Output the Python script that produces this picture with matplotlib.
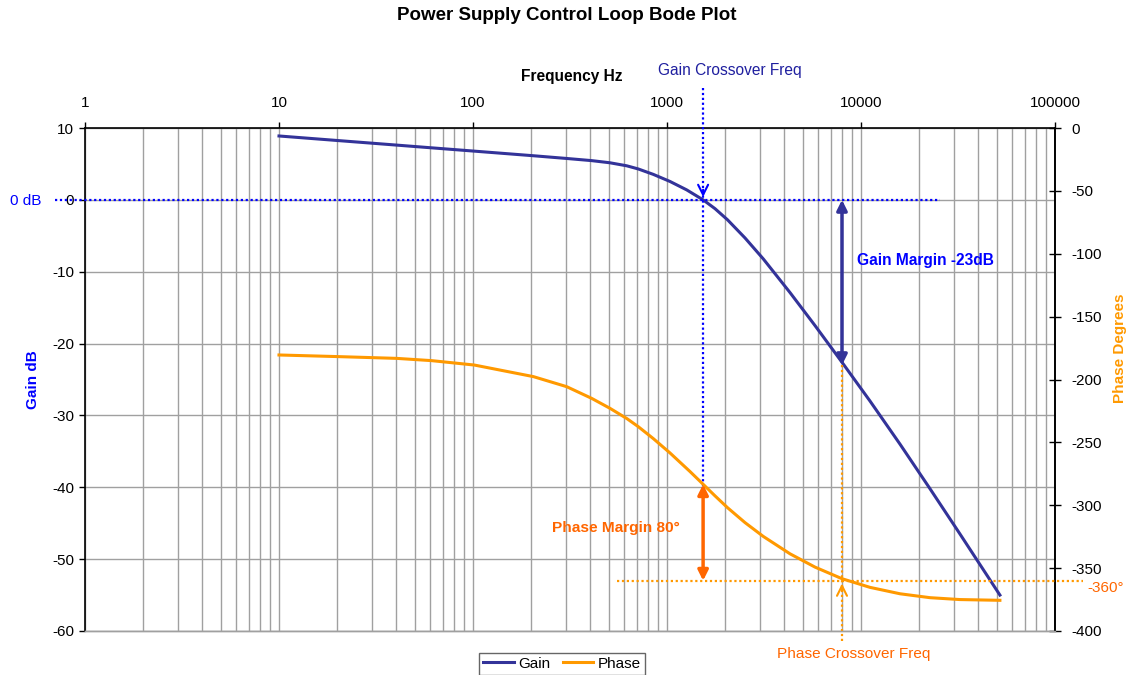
import matplotlib
matplotlib.use("Agg")
import matplotlib.pyplot as plt
from matplotlib.ticker import FixedLocator, NullFormatter, LogLocator

plt.rcParams['font.family'] = ['Liberation Sans', 'DejaVu Sans']
plt.rcParams['axes.unicode_minus'] = False

# ---- data ----
gain_freq_hz = [10, 20.2, 40.4, 61.2, 101.6, 204.7, 304, 409, 508, 620, 711, 851, 1036,
                1263, 1535, 1767, 2050, 2524, 3136, 4305, 5795, 7980, 11130, 15890,
                22680, 32370, 52000]
gain_db = [8.89, 8.25, 7.62, 7.24, 6.78, 6.14, 5.76, 5.46, 5.16, 4.74, 4.30, 3.54, 2.56,
           1.39, 0.0, -1.22, -2.77, -5.30, -8.22, -12.9, -17.5, -22.6, -28.0, -34.0,
           -40.2, -46.5, -55.0]
phase_freq_hz = [10, 20.2, 40.4, 61.2, 101.6, 204.7, 304, 409, 508, 620, 711, 850, 1036,
                 1314, 1535, 1767, 2050, 2524, 3136, 4305, 5795, 7980, 11130, 15890,
                 22680, 32370, 52000]
phase_deg = [-180.5, -181.8, -183.2, -185.0, -188.5, -197.7, -205.7, -215.0, -222.9,
             -231.0, -237.5, -247.0, -258.4, -273.2, -283.3, -292.5, -301.9, -313.8,
             -324.8, -338.6, -349.2, -358.4, -365.3, -370.4, -373.5, -375.0, -375.6]
x_ticks = [1, 10, 100, 1000, 10000, 100000]
x_tick_labels = ['1', '10', '100', '1000', '10000', '100000']
gain_ticks = [10, 0, -10, -20, -30, -40, -50, -60]
phase_ticks = [0, -50, -100, -150, -200, -250, -300, -350, -400]
gain_cross_freq = 1535
phase_cross_freq = 7980
gain_margin_db = -23
phase_at_gain_cross = -283.3
crit_phase = -360

GAIN_C = '#333399'
PHASE_C = '#FF9900'
ANN_O = '#FF6600'
BLUE = '#0000FF'
GRID_C = '#A0A0A0'

fig = plt.figure(figsize=(11.31, 6.75), dpi=100)
L, R, T, B = 85/1131, 1055/1131, 1-128/675, 1-631/675
ax = fig.add_axes([L, B, R-L, T-B])
ax2 = ax.twinx()

ax.set_xscale('log')
ax.set_xlim(1, 100000)
ax.set_ylim(-60, 10)
ax2.set_ylim(-400, 0)

# grid
ax.xaxis.set_minor_locator(LogLocator(base=10, subs=range(2, 10)))
ax.xaxis.set_minor_formatter(NullFormatter())
ax.grid(True, which='both', axis='x', color=GRID_C, lw=1.0, zorder=0)
ax.grid(True, which='major', axis='y', color=GRID_C, lw=1.0, zorder=0)
ax.set_axisbelow(True)

# ticks
ax.xaxis.tick_top()
ax.xaxis.set_major_locator(FixedLocator(x_ticks))
ax.set_xticklabels(x_tick_labels)
ax.tick_params(axis='x', which='major', direction='out', length=4, width=1, pad=9,
               labelsize=11, top=True, bottom=False, labeltop=True, labelbottom=False)
ax.tick_params(axis='x', which='minor', length=0)
ax.set_yticks(gain_ticks)
ax.tick_params(axis='y', direction='out', length=4, width=1, pad=4, labelsize=11)
ax2.set_yticks(phase_ticks)
ax2.tick_params(axis='y', direction='inout', length=9, width=1, pad=7, labelsize=11)

for a in (ax, ax2):
    for s in ('left', 'top', 'right'):
        a.spines[s].set_color('black')
        a.spines[s].set_linewidth(1.2)
    a.spines['bottom'].set_color(GRID_C)
    a.spines['bottom'].set_linewidth(1.0)
ax2.spines['left'].set_visible(False)
ax2.spines['top'].set_visible(False)

# curves
lg, = ax.plot(gain_freq_hz, gain_db, color=GAIN_C, lw=2.2, zorder=5, label='Gain')
lp, = ax2.plot(phase_freq_hz, phase_deg, color=PHASE_C, lw=2.2, zorder=5, label='Phase')

dot = (0, (1, 1.2))
# 0 dB horizontal
ax.plot([0.7, 25500], [0, 0], color=BLUE, lw=1.6, ls=dot, clip_on=False, zorder=6)
# gain crossover vertical
ax.plot([gain_cross_freq, gain_cross_freq], [15.6, -40.8], color=BLUE, lw=1.6, ls=dot,
        clip_on=False, zorder=6)
ax.annotate('', xy=(gain_cross_freq, 0), xytext=(gain_cross_freq, 1.8),
            arrowprops=dict(arrowstyle='->', color=BLUE, lw=1.5, mutation_scale=18),
            zorder=7)
# gain margin arrow
ax.annotate('', xy=(phase_cross_freq, gain_margin_db), xytext=(phase_cross_freq, 0),
            arrowprops=dict(arrowstyle='<|-|>', color=GAIN_C, lw=2.5, mutation_scale=15,
                            shrinkA=0, shrinkB=0), zorder=7)
# phase crossover vertical dotted
ax.plot([phase_cross_freq, phase_cross_freq], [gain_margin_db, -61.6], color=PHASE_C,
        lw=1.6, ls=dot, clip_on=False, zorder=6)
ax2.annotate('', xy=(phase_cross_freq, crit_phase), xytext=(phase_cross_freq, crit_phase - 10),
             arrowprops=dict(arrowstyle='->', color=PHASE_C, lw=1.5, mutation_scale=18),
             zorder=7)
# -360 horizontal
ax2.plot([552, 139000], [crit_phase, crit_phase], color=PHASE_C, lw=1.6, ls=dot,
         clip_on=False, zorder=6)
# phase margin arrow
ax2.annotate('', xy=(gain_cross_freq, crit_phase), xytext=(gain_cross_freq, phase_at_gain_cross),
             arrowprops=dict(arrowstyle='<|-|>', color=ANN_O, lw=2.5, mutation_scale=15,
                             shrinkA=0, shrinkB=0), zorder=7)

# texts
fig.text(567/1131, 1-16/675, 'Power Supply Control Loop Bode Plot', ha='center', va='center',
         fontsize=13.5, fontweight='bold')
fig.text(572/1131, 1-77/675, 'Frequency Hz', ha='center', va='center', fontsize=11.2,
         fontweight='bold')
fig.text(730/1131, 1-71/675, 'Gain Crossover Freq', ha='center', va='center', fontsize=11.2,
         color='#1F1F9F')
fig.text(33/1131, 1-380/675, 'Gain dB', ha='center', va='center', rotation=90, fontsize=11,
         fontweight='bold', color=BLUE)
fig.text(1120/1131, 1-348/675, 'Phase Degrees', ha='center', va='center', rotation=90,
         fontsize=11, fontweight='bold', color=PHASE_C)
fig.text(26/1131, 1-201/675, '0 dB', ha='center', va='center', fontsize=11, color=BLUE)
fig.text(857/1131, 1-260/675, 'Gain Margin -23dB', ha='left', va='center', fontsize=11.2,
         fontweight='bold', color=BLUE)
fig.text(616/1131, 1-528/675, 'Phase Margin 80°', ha='center', va='center', fontsize=11.1,
         fontweight='bold', color=ANN_O)
fig.text(854/1131, 1-654/675, 'Phase Crossover Freq', ha='center', va='center',
         fontsize=11.1, color=ANN_O)
fig.text(1106/1131, 1-588/675, '-360°', ha='center', va='center', fontsize=11, color=ANN_O)

leg = fig.legend(handles=[lg, lp], loc='upper center', bbox_to_anchor=(562/1131, 1-653/675),
                 ncol=2, fontsize=11, frameon=True, fancybox=False, edgecolor='#404040',
                 handlelength=2.0, handletextpad=0.3, columnspacing=0.8, borderpad=0.25,
                 borderaxespad=0)
leg.get_frame().set_linewidth(1.0)

fig.savefig('out.png', dpi=100)
